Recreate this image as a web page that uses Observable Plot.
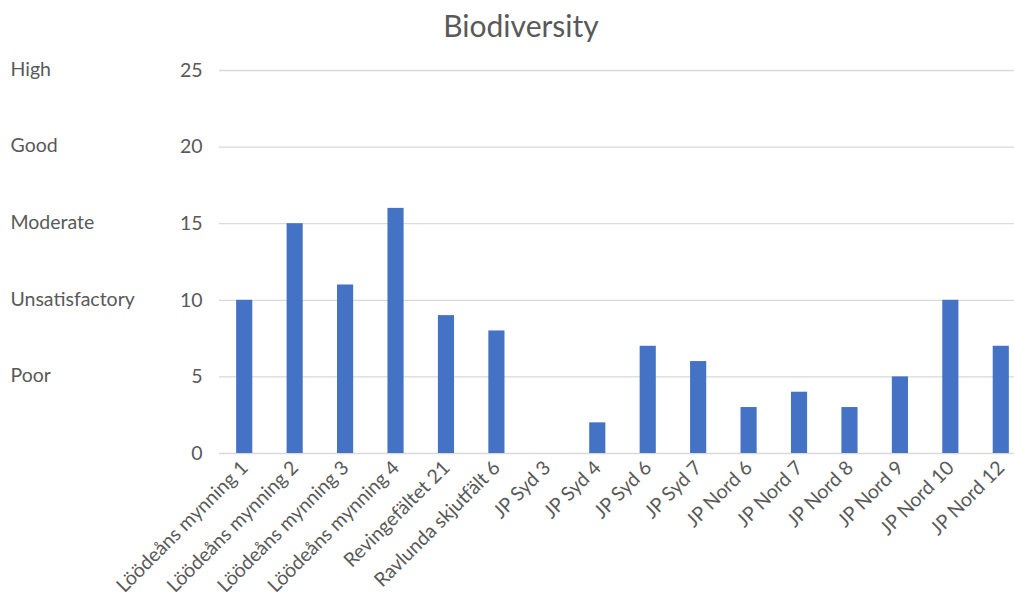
<!DOCTYPE html>
<html>
<head>
<meta charset="utf-8">
<script src="https://cdn.jsdelivr.net/npm/d3@7"></script>
<script src="https://cdn.jsdelivr.net/npm/@observablehq/plot@0.6"></script>
<style>
  html, body { margin: 0; padding: 0; background: #fff; }
  #title { height: 50px; line-height: 50px; text-align: center; font-family: Lato, "Open Sans", sans-serif; font-size: 30px; color: #595959; width: 1014px; box-sizing: border-box; padding-left: 28px; }
  #chart svg { display: block; }
</style>
</head>
<body>
<div id="title">Biodiversity</div>
<div id="chart"></div>
<script>
const sites = ["Löödeåns mynning 1","Löödeåns mynning 2","Löödeåns mynning 3","Löödeåns mynning 4","Revingefältet 21","Ravlunda skjutfält 6","JP Syd 3","JP Syd 4","JP Syd 6","JP Syd 7","JP Nord 6","JP Nord 7","JP Nord 8","JP Nord 9","JP Nord 10","JP Nord 12"];
const scores = [10,15,11,16,9,8,0,2,7,6,3,4,3,5,10,7];
const yTicks = [0,5,10,15,20,25];
const levelValues = [25,20,15,10,5];
const levelLabels = ["High","Good","Moderate","Unsatisfactory","Poor"];

const data = sites.map((s, i) => ({site: s, score: scores[i]}));
const levels = levelValues.map((v, i) => ({v, label: levelLabels[i]}));

const chart = Plot.plot({
  width: 1014,
  height: 558,
  marginTop: 20,
  marginBottom: 155,
  marginLeft: 219,
  marginRight: 0,
  style: {fontFamily: "Lato, 'Open Sans', sans-serif", fontSize: "19.5px", color: "#595959", background: "#fff"},
  x: {domain: sites, range: [219, 1026], paddingInner: 0.68, paddingOuter: 0.34, round: false, label: null},
  y: {domain: [0, 25], label: null},
  marks: [
    Plot.ruleY(yTicks, {stroke: "#d9d9d9", strokeWidth: 1.3}),
    Plot.barY(data, {x: "site", y: "score", fill: "#4472c4"}),
    Plot.axisY({ticks: yTicks, tickSize: 0, tickPadding: 17, label: null, fontSize: 19.5, fill: "#595959"}),
    Plot.axisX({tickSize: 0, tickPadding: 11, tickRotate: -45, label: null, fontSize: 19.5, fill: "#595959"}),
    Plot.text(levels, {y: "v", text: "label", frameAnchor: "left", dx: -209, textAnchor: "start", fontSize: 19.5, fill: "#595959", dy: -1})
  ]
});
document.getElementById("chart").appendChild(chart);
</script>
</body>
</html>
